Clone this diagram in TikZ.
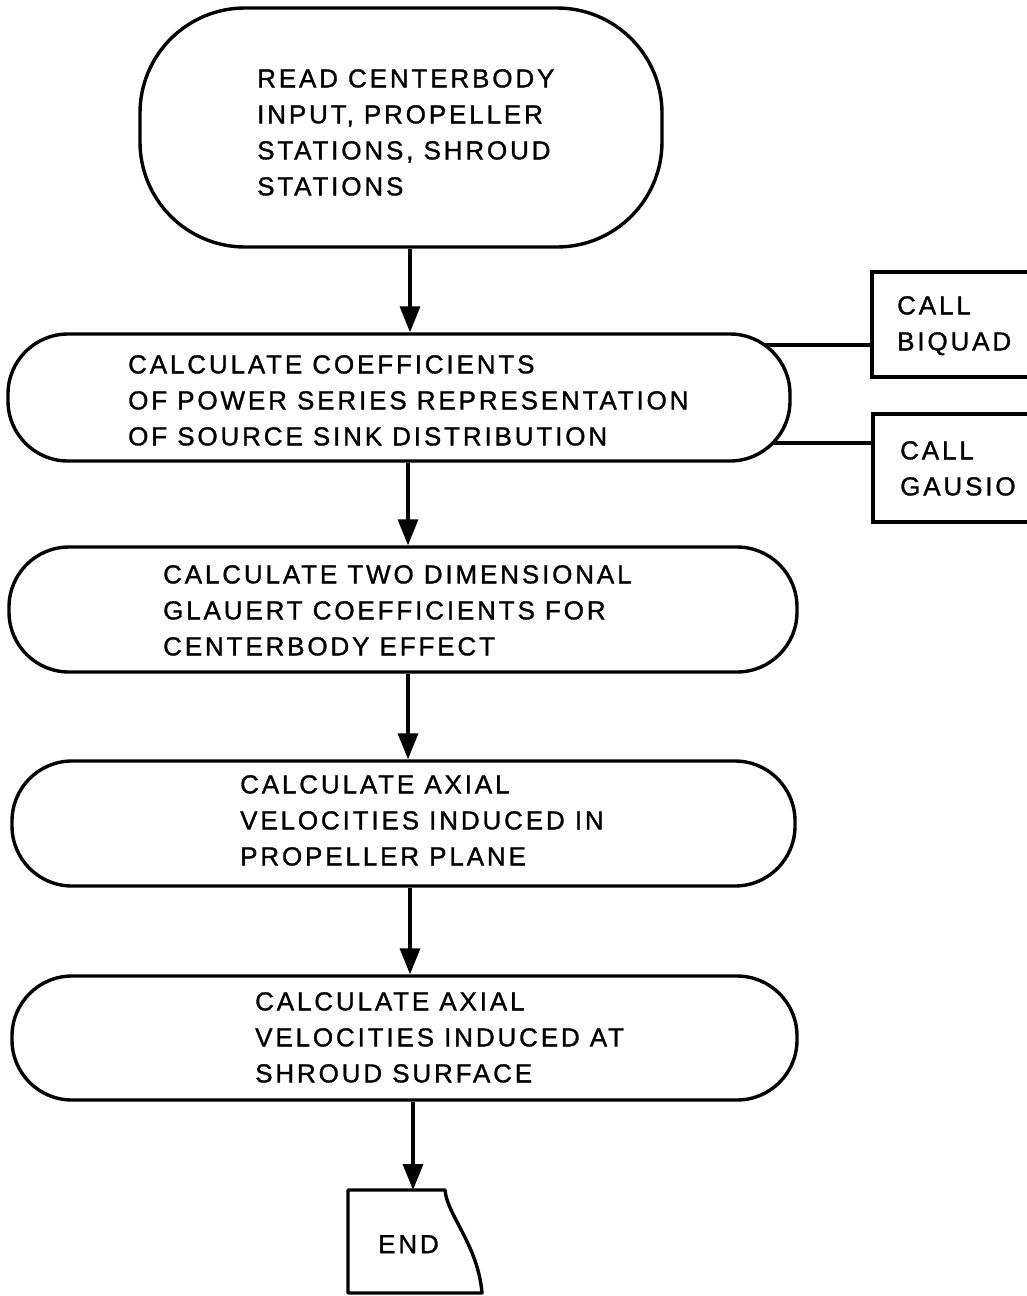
\documentclass[tikz,border=0pt]{standalone}
\usepackage{fontspec}
\setmainfont{Liberation Sans}[LetterSpace=11,FakeBold=1.2]
\usetikzlibrary{arrows.meta,backgrounds}
\tikzset{
  flow/.style={draw=black, line width=3.4pt, fill=white, rectangle, inner sep=0pt},
  txt/.style={inner sep=0pt, align=left, anchor=north west, font=\fontsize{26}{36}\selectfont},
  callbox/.style={draw=black, line width=3.4pt, fill=white, rectangle, inner sep=0pt},
  arr/.style={line width=3.4pt, -{Triangle[length=26pt,width=20pt]}},
  conn/.style={line width=3.4pt}
}
\begin{document}
\begin{tikzpicture}[x=1pt,y=-1pt]
\clip (0,0) rectangle (1027,1296);
% process shapes
\node[flow, rounded corners=105pt, minimum width=522pt, minimum height=239pt] (b1) at (401,127.5) {};
\node[flow, rounded corners=60pt, minimum width=782pt, minimum height=127pt] (b2) at (399,397.5) {};
\node[flow, rounded corners=60pt, minimum width=788pt, minimum height=125pt] (b3) at (403,609.5) {};
\node[flow, rounded corners=60pt, minimum width=783pt, minimum height=125pt] (b4) at (403.5,823.5) {};
\node[flow, rounded corners=60pt, minimum width=785pt, minimum height=124pt] (b5) at (404.5,1038) {};
% call boxes
\node[callbox, minimum width=172pt, minimum height=105pt] (biq) at (958,324.5) {};
\node[callbox, minimum width=170pt, minimum height=108pt] (gau) at (958,468) {};
% texts
\node[txt] (t1) at (257,69) {READ CENTERBODY\\INPUT, PROPELLER\\STATIONS, SHROUD\\STATIONS};
\node[txt] (t2) at (128,355) {CALCULATE COEFFICIENTS\\OF POWER SERIES REPRESENTATION\\OF SOURCE SINK DISTRIBUTION};
\node[txt] (t3) at (163,565) {CALCULATE TWO DIMENSIONAL\\GLAUERT COEFFICIENTS FOR\\CENTERBODY EFFECT};
\node[txt] (t4) at (240,775) {CALCULATE AXIAL\\VELOCITIES INDUCED IN\\PROPELLER PLANE};
\node[txt] (t5) at (255,992) {CALCULATE AXIAL\\VELOCITIES INDUCED AT\\SHROUD SURFACE};
\node[txt] (tb) at (897,296) {CALL\\BIQUAD};
\node[txt] (tg) at (900,441) {CALL\\GAUSIO};
% END shape
\coordinate (e1) at (348,1190);
\coordinate (e2) at (445,1190);
\coordinate (e3) at (482,1293);
\coordinate (e4) at (348,1293);
\draw[line width=3.4pt, line join=round] (e1) -- (e2) .. controls (447,1215) and (478,1245) .. (e3) -- (e4) -- cycle;
\node[txt] (tend) at (378,1235) {END};
% connectors to call boxes (behind)
\begin{scope}[on background layer]
\fill[white] (0,0) rectangle (1027,1296);
\draw[conn] (biq.west |- 0,345) -- (b2.center |- 0,345);
\draw[conn] (gau.west |- 0,443) -- (b2.center |- 0,443);
\end{scope}
% arrows
\draw[arr] (b1.south -| 410,0) -- (b2.north -| 410,0);
\draw[arr] (b2.south -| 408,0) -- (b3.north -| 408,0);
\draw[arr] (b3.south -| 408,0) -- (b4.north -| 408,0);
\draw[arr] (b4.south -| 410,0) -- (b5.north -| 410,0);
\draw[arr] (b5.south -| 413,0) -- (e1 -| 413,0);
\end{tikzpicture}
\end{document}
